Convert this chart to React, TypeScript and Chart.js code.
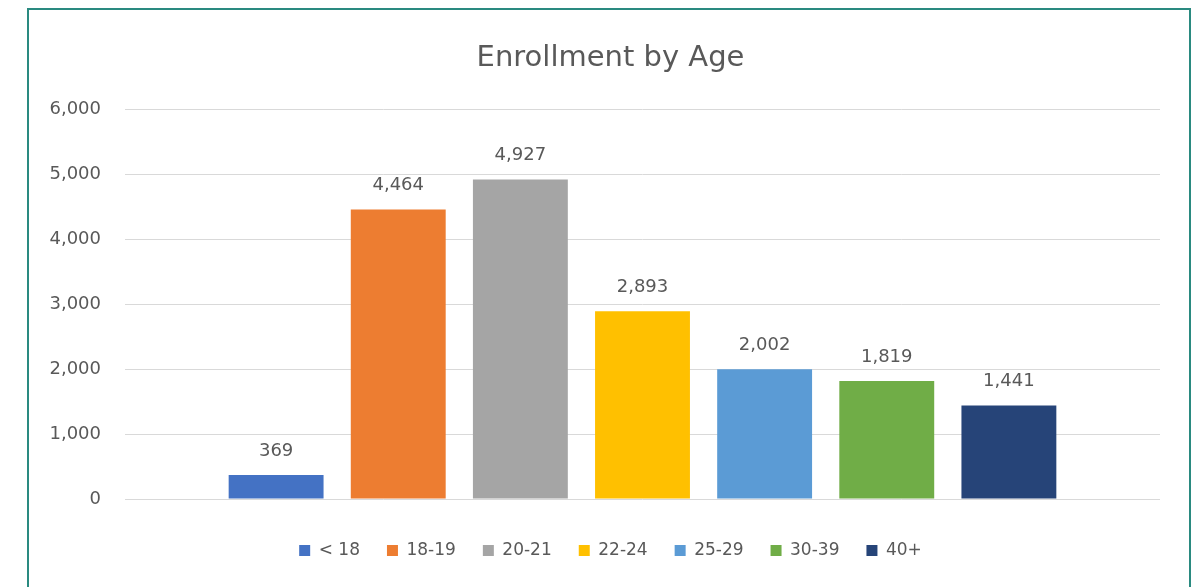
import React, { useEffect, useRef } from "react";
import { Chart, registerables } from "chart.js";

Chart.register(...registerables);

const categories = [""];
const seriesLabels = ["< 18", "18-19", "20-21", "22-24", "25-29", "30-39", "40+"];
const seriesValues = [369, 4464, 4927, 2893, 2002, 1819, 1441];
const seriesColors = ["#4472C4", "#ED7D31", "#A5A5A5", "#FFC000", "#5B9BD5", "#70AD47", "#264478"];
const yMin = 0;
const yMax = 6000;
const yStep = 1000;
const chartTitle = "Enrollment by Age";

const FONT = "'DejaVu Sans', sans-serif";
const TEXT = "#595959";

const dataLabelPlugin = {
  id: "dataLabels",
  afterLayout(chart: any) {
    // let the y tick labels extend left of the axis box without being clipped
    if (chart.scales.y) chart.scales.y.left = 0;
  },
  afterDatasetsDraw(chart: any) {
    const ctx = chart.ctx;
    ctx.save();
    ctx.font = `18px ${FONT}`;
    ctx.fillStyle = TEXT;
    ctx.textAlign = "center";
    ctx.textBaseline = "middle";
    chart.data.datasets.forEach((ds: any, i: number) => {
      const meta = chart.getDatasetMeta(i);
      meta.data.forEach((bar: any, j: number) => {
        const v = ds.data[j];
        ctx.fillText(Number(v).toLocaleString("en-US"), bar.x, bar.y - 24);
      });
    });
    ctx.restore();
  },
};

export default function App() {
  const ref = useRef<HTMLCanvasElement>(null);
  useEffect(() => {
    if (!ref.current) return;
    const chart = new Chart(ref.current, {
      type: "bar",
      data: {
        labels: categories,
        datasets: seriesLabels.map((label, i) => ({
          label,
          data: [seriesValues[i]],
          backgroundColor: seriesColors[i],
          borderWidth: 0,
          categoryPercentage: 0.826,
          barPercentage: 0.777,
        })),
      },
      options: {
        animation: false,
        responsive: false,
        layout: { padding: { left: 53, right: 25, top: 0, bottom: 39 } },
        plugins: {
          title: {
            display: true,
            text: chartTitle,
            color: TEXT,
            font: { family: FONT, size: 29, weight: "normal" },
            padding: { top: 33, bottom: 34 },
          },
          legend: {
            position: "bottom",
            labels: {
              boxWidth: 11,
              boxHeight: 11,
              padding: 27,
              color: TEXT,
              font: { family: FONT, size: 17 },
            },
          },
          tooltip: { enabled: false },
        },
        scales: {
          x: {
            grid: { display: false },
            border: { display: false },
            ticks: { display: false },
            afterFit: (s: any) => {
              s.height = 16;
            },
          },
          y: {
            min: yMin,
            max: yMax,
            ticks: {
              stepSize: yStep,
              color: TEXT,
              padding: 24,
              font: { family: FONT, size: 18 },
              callback: (v: any) => Number(v).toLocaleString("en-US"),
            },
            grid: { color: "#d9d9d9", lineWidth: 1, drawTicks: false },
            border: { display: false },
            afterFit: (s: any) => {
              s.width = 64;
            },
          },
        },
      },
      plugins: [dataLabelPlugin],
    });
    return () => chart.destroy();
  }, []);

  return (
    <div
      style={{
        position: "fixed",
        left: 0,
        top: 0,
        width: 1193,
        height: 587,
        overflow: "hidden",
        background: "#fff",
      }}
    >
      <div
        style={{
          position: "absolute",
          left: 27,
          top: 8,
          width: 1160,
          height: 640,
          border: "2px solid #2a8a80",
        }}
      />
      <canvas
        ref={ref}
        width={1177}
        height={600}
        style={{ position: "absolute", left: 8, top: 8 }}
      />
    </div>
  );
}
